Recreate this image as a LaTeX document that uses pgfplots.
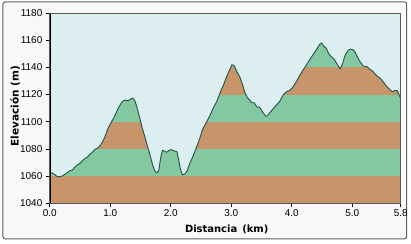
\documentclass[border=0pt]{standalone}
\usepackage{pgfplots}
\pgfplotsset{compat=1.18}
\usepackage{pgfplotstable}
\usepackage{fontspec}
\setmainfont{Liberation Sans}
\newfontfamily\labfont{DejaVu Sans}
\definecolor{sky}{HTML}{DDEEF0}
\definecolor{bandbrown}{HTML}{C8946A}
\definecolor{bandgreen}{HTML}{84C8A2}
\definecolor{prof}{HTML}{1F5044}
\definecolor{framebg}{HTML}{F8F8F8}
\pgfplotstableread{
km elev
0.00 1061.5
0.03 1062.5
0.07 1061.5
0.13 1059.5
0.20 1060
0.27 1062
0.33 1064
0.37 1064.5
0.40 1066
0.46 1068.5
0.50 1069.5
0.52 1070.5
0.58 1073
0.62 1074
0.66 1076
0.70 1077.5
0.74 1079.5
0.80 1081
0.84 1083
0.88 1086
0.92 1090
0.96 1095
1.02 1100
1.07 1104
1.13 1110
1.19 1114.5
1.24 1116
1.29 1115.5
1.33 1116.5
1.37 1117.5
1.41 1115
1.45 1109
1.49 1102
1.53 1095
1.57 1089
1.62 1081
1.66 1075
1.70 1068
1.74 1063.5
1.77 1062.5
1.80 1064
1.83 1073
1.86 1079
1.89 1078.5
1.93 1077.5
1.97 1079
2.01 1079.5
2.06 1078.5
2.10 1078
2.13 1072
2.16 1065
2.19 1061
2.23 1061.5
2.27 1064
2.31 1069
2.37 1075
2.43 1082
2.48 1088
2.52 1094
2.58 1099
2.64 1104
2.70 1110
2.76 1115
2.81 1121
2.87 1127
2.92 1133
2.97 1138
3.01 1142
3.05 1141
3.09 1137
3.14 1133
3.18 1128
3.22 1122
3.26 1118
3.30 1116
3.34 1114
3.38 1114
3.42 1111
3.47 1110.5
3.52 1107
3.57 1104
3.60 1104.5
3.64 1107
3.70 1110
3.76 1113
3.80 1115
3.86 1120
3.91 1122
3.96 1123
4.01 1125
4.08 1130
4.13 1134
4.17 1137
4.23 1141
4.30 1146
4.36 1150
4.42 1154
4.46 1157
4.49 1158
4.53 1155.5
4.57 1154
4.61 1150
4.65 1148
4.70 1146
4.74 1143
4.78 1140
4.80 1139
4.84 1143
4.88 1149
4.93 1152.5
4.97 1153.5
5.01 1153
5.05 1151
5.09 1147
5.13 1144
5.18 1141
5.24 1140.5
5.28 1139
5.34 1137
5.40 1134
5.46 1132
5.50 1130
5.55 1127
5.61 1124
5.66 1122
5.70 1123
5.74 1123
5.77 1120
5.80 1117
}\profile
\begin{document}
\begin{tikzpicture}
\path[fill=white] (0pt,0pt) rectangle (411pt,244pt);
\path[fill=framebg, draw=gray!75!black, line width=1pt, rounded corners=2pt] (3pt,4.5pt) rectangle (408pt,242pt);
\begin{axis}[
  at={(50pt,40pt)}, anchor=south west,
  scale only axis, width=352pt, height=191pt,
  xmin=0, xmax=5.8, ymin=1040, ymax=1180,
  axis on top,
  axis line style={gray!70!black, line width=0.8pt},
  xtick={0,1,2,3,4,5,5.8},
  xticklabels={0.0,1.0,2.0,3.0,4.0,5.0,5.8},
  ytick={1040,1060,...,1180},
  xtick pos=bottom, ytick pos=left,
  tick align=outside, major tick length=4pt,
  tick style={black, line width=0.8pt},
  /pgf/number format/assume math mode=true,
  /pgf/number format/1000 sep={},
  ticklabel style={font=\fontsize{10}{11}\selectfont},
  xticklabel style={yshift=1pt},
  xlabel={Distancia\enspace(km)},
  ylabel={Elevación (m)},
  xlabel style={font=\labfont\bfseries\fontsize{10}{11}\selectfont, at={(axis description cs:0.504,-0.139)}, anchor=center},
  ylabel style={font=\labfont\bfseries\fontsize{10.5}{11}\selectfont, at={(axis description cs:-0.099,0.51)}, anchor=center},
]
\addplot[fill=bandbrown, draw=none] coordinates {(0,1040)(5.8,1040)(5.8,1060)(0,1060)} -- cycle;
\addplot[fill=bandgreen, draw=none] coordinates {(0,1060)(5.8,1060)(5.8,1080)(0,1080)} -- cycle;
\addplot[fill=bandbrown, draw=none] coordinates {(0,1080)(5.8,1080)(5.8,1100)(0,1100)} -- cycle;
\addplot[fill=bandgreen, draw=none] coordinates {(0,1100)(5.8,1100)(5.8,1120)(0,1120)} -- cycle;
\addplot[fill=bandbrown, draw=none] coordinates {(0,1120)(5.8,1120)(5.8,1140)(0,1140)} -- cycle;
\addplot[fill=bandgreen, draw=none] coordinates {(0,1140)(5.8,1140)(5.8,1160)(0,1160)} -- cycle;
\addplot[fill=bandbrown, draw=none] coordinates {(0,1160)(5.8,1160)(5.8,1180)(0,1180)} -- cycle;
\addplot[fill=sky, draw=none] table[x=km, y=elev] {\profile} -- (rel axis cs:1,1) -- (rel axis cs:0,1) -- cycle;
\addplot[prof, line width=0.9pt, line join=round] table[x=km, y=elev] {\profile};
\draw[black, line width=1.4pt] (rel axis cs:0,1) -- (rel axis cs:0,0) -- (rel axis cs:1,0);
\end{axis}
\end{tikzpicture}
\end{document}
